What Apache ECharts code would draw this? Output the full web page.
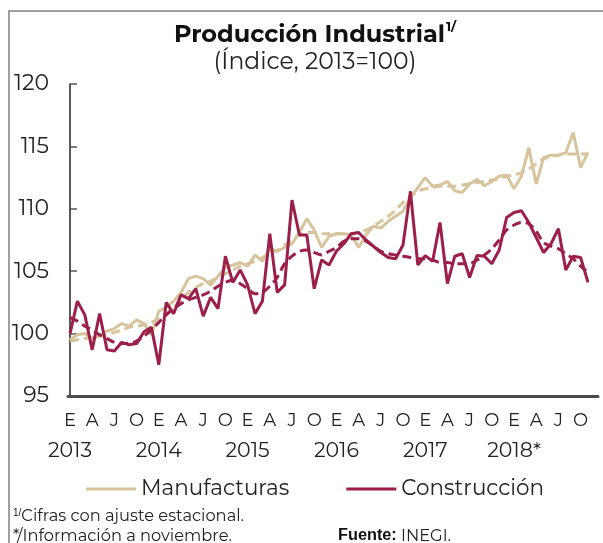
<!DOCTYPE html>
<html>
<head>
<meta charset="utf-8">
<script src="https://cdn.jsdelivr.net/npm/echarts@6/dist/echarts.min.js"></script>
<style>
body { margin: 0; background: #fff; }
#marco {
    position: absolute; left: 8px; top: 10px; width: 600px; height: 540px;
    border-left: 2px solid #a0a0a0; border-top: 2px solid #a0a0a0;
}
#chart { position: absolute; left: 0; top: 0; width: 603px; height: 543px; }
</style>
</head>
<body>
<div id="marco"></div>
<div id="chart"></div>
<script>
// meses desde ene-2013 hasta nov-2018
const meses = ['E', 'A', 'J', 'O'];
const anios = ['2013', '2014', '2015', '2016', '2017', '2018*'];

const manufacturas = [
    99.5, 99.9, 100.0, 99.6, 99.8, 100.2, 100.4, 100.8, 100.6, 101.1, 100.8, 99.9,
    101.8, 102.1, 102.6, 103.3, 104.4, 104.6, 104.4, 103.9, 104.6, 105.3, 105.5, 105.7,
    105.4, 106.3, 105.8, 106.8, 106.6, 106.9, 107.2, 108.1, 109.2, 108.3, 106.9, 107.8,
    108.0, 108.0, 107.9, 106.9, 107.9, 108.6, 108.45, 109.0, 109.4, 109.8, 110.9, 111.7,
    112.5, 111.8, 111.9, 112.2, 111.45, 111.3, 112.0, 112.35, 111.85, 112.2, 112.6, 112.7,
    111.6, 112.6, 114.9, 112.0, 114.1, 114.3, 114.3, 114.5, 116.1, 113.3, 114.5,
];
const manufacturasTend = [
    99.4, 99.5, 99.6, 99.7, 99.8, 99.9, 100.1, 100.3, 100.5, 100.6, 100.7, 100.9,
    101.2, 101.6, 102.1, 102.7, 103.3, 103.7, 104.0, 104.2, 104.5, 104.8, 105.1, 105.4,
    105.6, 105.8, 106.1, 106.4, 106.7, 107.1, 107.5, 107.9, 108.1, 108.1, 108.0, 108.0,
    108.0, 108.0, 108.0, 108.1, 108.3, 108.6, 109.0, 109.4, 109.9, 110.5, 111.0, 111.4,
    111.6, 111.7, 111.8, 111.8, 111.8, 111.9, 112.0, 112.1, 112.2, 112.3, 112.4, 112.6,
    112.7, 112.9, 113.2, 113.6, 114.0, 114.2, 114.3, 114.4, 114.4, 114.4, 114.4,
];
const construccion = [
    100.0, 102.6, 101.5, 98.7, 101.6, 98.7, 98.6, 99.3, 99.1, 99.2, 100.15, 100.5,
    97.5, 102.5, 101.6, 103.1, 102.8, 103.6, 101.4, 102.9, 102.0, 106.2, 104.1, 105.1,
    103.9, 101.6, 102.6, 108.0, 103.3, 103.9, 110.7, 107.9, 107.9, 103.6, 105.9, 105.5,
    106.6, 107.2, 108.0, 108.1, 107.5, 107.0, 106.5, 106.1, 106.0, 107.1, 111.4, 105.5,
    106.25, 105.8, 108.9, 104.0, 106.2, 106.4, 104.5, 106.25, 106.2, 105.6, 106.7, 109.3,
    109.7, 109.85, 108.9, 107.7, 106.5, 107.2, 108.4, 105.1, 106.2, 106.1, 104.1,
];
const construccionTend = [
    101.3, 101.0, 100.6, 100.3, 99.9, 99.6, 99.3, 99.2, 99.2, 99.4, 99.8, 100.3,
    100.9, 101.5, 102.0, 102.4, 102.7, 102.9, 103.1, 103.4, 103.8, 104.1, 104.3, 104.0,
    103.6, 103.2, 103.3, 103.8, 104.5, 105.6, 106.2, 106.6, 106.7, 106.5, 106.3, 106.6,
    106.9, 107.4, 107.6, 107.6, 107.4, 107.0, 106.6, 106.4, 106.3, 106.2, 106.1, 106.0,
    106.0, 105.9, 105.7, 105.7, 105.6, 105.6, 105.6, 105.9, 106.3, 106.8, 107.5, 108.3,
    108.7, 108.9, 108.8, 108.2, 107.3, 107.0, 106.8, 106.4, 106.0, 105.4, 104.9,
];

const fuente = 'Montserrat, "Noto Sans", sans-serif';
const colorManuf = '#d8c49c';
const colorConst = '#9b1f48';
const posMes = []; // etiquetas cada 3 meses
for (let i = 0; i < manufacturas.length; i += 3) posMes.push(i);
const posAnio = anios.map((a, i) => i * 12); // enero de cada año

const pares = arr => arr.map((v, i) => [i, v]);

const chart = echarts.init(document.getElementById('chart'), null, { renderer: 'canvas' });
chart.setOption({
    animation: false,
    textStyle: { fontFamily: fuente },
    title: {
        text: '{b|Producción Industrial}{s|1/}',
        subtext: '(Índice, 2013=100)',
        left: 310,
        textAlign: 'center',
        top: 16,
        itemGap: 4,
        textStyle: {
            rich: {
                b: { fontSize: 24, fontWeight: 'bold', color: '#111', fontFamily: fuente },
                s: { fontSize: 13, fontWeight: 'bold', color: '#111', fontFamily: fuente, padding: [0, 0, 14, 1] },
            },
        },
        subtextStyle: { fontSize: 23.5, color: '#222', fontFamily: fuente },
    },
    grid: { left: 68, right: 5, top: 84, bottom: 147 },
    xAxis: [
        {
            type: 'value',
            position: 'bottom',
            min: -0.27,
            max: 71.35,
            splitLine: { show: false },
            axisTick: { show: false },
            axisLine: { lineStyle: { color: '#4a4a4a', width: 3 } },
            axisLabel: {
                customValues: posMes,
                margin: 16,
                fontSize: 18,
                color: '#222',
                formatter: v => meses[(v % 12) / 3],
            },
        },
        {
            // segunda fila: años
            type: 'value',
            position: 'bottom',
            offset: 0,
            min: -0.27,
            max: 71.35,
            splitLine: { show: false },
            axisTick: { show: false },
            axisLine: { show: false },
            axisLabel: {
                customValues: posAnio,
                margin: 44,
                fontSize: 20.5,
                color: '#222',
                formatter: v => anios[v / 12],
            },
        },
    ],
    yAxis: {
        type: 'value',
        min: 95,
        max: 120,
        interval: 5,
        splitLine: { show: false },
        axisLine: { show: true, lineStyle: { color: '#222', width: 1.5 } },
        axisTick: { show: true, inside: true, length: 7, lineStyle: { color: '#555', width: 1.5 } },
        axisLabel: { fontSize: 22, color: '#222', margin: 19 },
    },
    legend: {
        data: ['Manufacturas', 'Construcción'],
        top: 473,
        left: 81,
        icon: 'rect',
        itemWidth: 50,
        itemHeight: 3,
        itemGap: 57,
        textStyle: { fontSize: 21.5, color: '#222', fontFamily: fuente },
    },
    series: [
        {
            name: 'Manufacturas tendencia',
            type: 'line',
            data: pares(manufacturasTend),
            showSymbol: false,
            smooth: 0.3,
            lineStyle: { color: colorManuf, width: 3, type: [9, 5] },
            itemStyle: { color: colorManuf },
        },
        {
            name: 'Manufacturas',
            type: 'line',
            data: pares(manufacturas),
            showSymbol: false,
            lineStyle: { color: colorManuf, width: 3 },
            itemStyle: { color: colorManuf },
        },
        {
            name: 'Construcción tendencia',
            type: 'line',
            data: pares(construccionTend),
            showSymbol: false,
            smooth: 0.3,
            lineStyle: { color: colorConst, width: 3, type: [9, 5] },
            itemStyle: { color: colorConst },
        },
        {
            name: 'Construcción',
            type: 'line',
            data: pares(construccion),
            showSymbol: false,
            lineStyle: { color: colorConst, width: 3 },
            itemStyle: { color: colorConst },
        },
    ],
    graphic: [
        {
            type: 'text', left: 13, top: 508,
            style: {
                text: '{s|1/}Cifras con ajuste estacional.',
                fill: '#222',
                font: `16.3px ${fuente}`,
                rich: { s: { fontSize: 10, padding: [0, 0, 7, 0], fill: '#222' } },
            },
        },
        {
            type: 'text', left: 13, top: 528,
            style: { text: '*/Información a noviembre.', fill: '#222', font: `16.3px ${fuente}` },
        },
        {
            type: 'text', left: 338, top: 528,
            style: {
                text: '{b|Fuente:} INEGI.',
                fill: '#222',
                font: `16.3px ${fuente}`,
                rich: { b: { fontWeight: 'bold', fontSize: 16.3, fill: '#111' } },
            },
        },
    ],
});
</script>
</body>
</html>
